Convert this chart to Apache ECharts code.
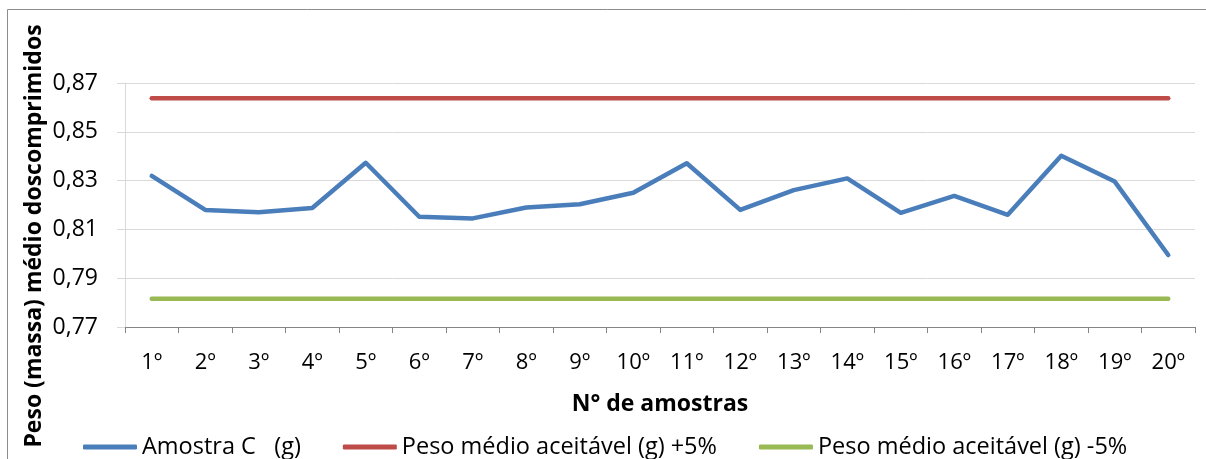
<!DOCTYPE html>
<html>
<head>
<meta charset="utf-8">
<script src="https://cdn.jsdelivr.net/npm/echarts@6/dist/echarts.min.js"></script>
<style>
  html, body { margin: 0; padding: 0; background: #fff; }
  #chart { width: 1206px; height: 459px; }
</style>
</head>
<body>
<div id="chart"></div>
<script>
// Amostras 1º a 20º
const categories = ['1º','2º','3º','4º','5º','6º','7º','8º','9º','10º',
                    '11º','12º','13º','14º','15º','16º','17º','18º','19º','20º'];

// Peso médio de cada amostra (g)
const amostraC = [0.8319, 0.8180, 0.8170, 0.8188, 0.8373, 0.8152, 0.8145, 0.8190, 0.8203, 0.8250,
                  0.8371, 0.8180, 0.8261, 0.8309, 0.8168, 0.8237, 0.8160, 0.8402, 0.8296, 0.7995];

// Limites aceitáveis (+5% e -5% do peso médio)
const limiteSuperior = [0.8637, 0.8637, 0.8637, 0.8637, 0.8637, 0.8637, 0.8637, 0.8637, 0.8637, 0.8637,
                        0.8637, 0.8637, 0.8637, 0.8637, 0.8637, 0.8637, 0.8637, 0.8637, 0.8637, 0.8637];
const limiteInferior = [0.7816, 0.7816, 0.7816, 0.7816, 0.7816, 0.7816, 0.7816, 0.7816, 0.7816, 0.7816,
                        0.7816, 0.7816, 0.7816, 0.7816, 0.7816, 0.7816, 0.7816, 0.7816, 0.7816, 0.7816];

// Eixo Y
const yMin = 0.77, yMax = 0.87, yStep = 0.02;

const FONT = '"Open Sans"';
const chart = echarts.init(document.getElementById('chart'), null, { renderer: 'canvas' });

const lineSeries = (name, data, color) => ({
  name, type: 'line', data,
  symbol: 'none', showSymbol: false, smooth: false,
  lineStyle: { color, width: 4.5, cap: 'round', join: 'round' },
  itemStyle: { color },
  emphasis: { disabled: true },
  animation: false
});

chart.setOption({
  animation: false,
  textStyle: { fontFamily: FONT },
  grid: { left: 125, right: 11, top: 83, bottom: 132, containLabel: false },
  xAxis: {
    type: 'category',
    data: categories,
    boundaryGap: true,
    axisLine: { lineStyle: { color: '#868686', width: 1 } },
    axisTick: { show: true, length: 6, lineStyle: { color: '#868686' } },
    axisLabel: { color: '#000', fontSize: 22, fontFamily: FONT, margin: 25, interval: 0 },
    name: 'N° de amostras',
    nameLocation: 'middle',
    nameGap: 66,
    nameTextStyle: { color: '#000', fontSize: 23, fontWeight: 'bold', fontFamily: FONT }
  },
  yAxis: {
    type: 'value',
    min: yMin, max: yMax, interval: yStep,
    axisLine: { show: true, lineStyle: { color: '#d9d9d9', width: 1 } },
    axisTick: { show: true, length: 8, lineStyle: { color: '#d9d9d9' } },
    splitLine: { show: true, lineStyle: { color: '#d9d9d9', width: 1 } },
    axisLabel: {
      color: '#000', fontSize: 23, fontFamily: FONT, margin: 27,
      formatter: v => v.toFixed(2).replace('.', ',')
    }
  },
  legend: {
    left: 78, top: 429,
    itemWidth: 54, itemHeight: 5, itemGap: 42,
    icon: 'roundRect',
    textStyle: { color: '#000', fontSize: 23.5, fontFamily: FONT, lineHeight: 26 },
    data: ['Amostra C   (g)', 'Peso médio aceitável (g) +5%', 'Peso médio aceitável (g) -5%']
  },
  graphic: [
    {
      type: 'rect', silent: true, z: -1,
      shape: { x: 7.5, y: 9.5, width: 1300, height: 600 },
      style: { fill: 'none', stroke: '#8c8c8c', lineWidth: 1 }
    },
    {
      type: 'text', silent: true,
      x: 34, y: 236, rotation: Math.PI / 2,
      style: {
        text: 'Peso (massa) médio doscomprimidos',
        fill: '#000', font: 'bold 23px ' + FONT,
        align: 'center', verticalAlign: 'middle'
      }
    }
  ],
  series: [
    lineSeries('Amostra C   (g)', amostraC, '#4a7ebb'),
    lineSeries('Peso médio aceitável (g) +5%', limiteSuperior, '#be4b48'),
    lineSeries('Peso médio aceitável (g) -5%', limiteInferior, '#98b954')
  ]
});
</script>
</body>
</html>
